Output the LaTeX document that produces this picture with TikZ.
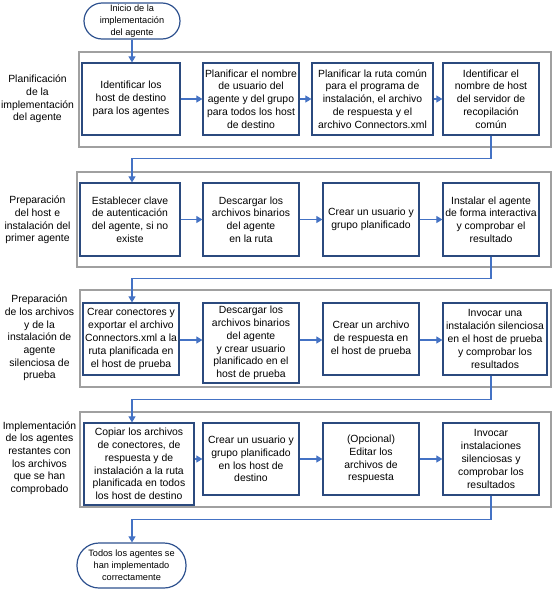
\documentclass[tikz,border=0pt]{standalone}
\usepackage{fontspec}
\setmainfont{Liberation Sans}
\usetikzlibrary{arrows.meta}
\definecolor{boxc}{HTML}{2B4A7E}
\definecolor{connc}{HTML}{4472C4}
\definecolor{framec}{HTML}{A0A0A0}
\definecolor{termc}{HTML}{2F528F}
\begin{document}
\begin{tikzpicture}[x=1pt,y=-1pt,
  box/.style={draw=boxc, line width=1.2pt, fill=white, align=center, inner sep=0pt,
    font=\fontsize{10.4}{12.8}\selectfont},
  frame/.style={draw=framec, line width=1.2pt},
  conn/.style={draw=connc, line width=1.1pt, -{Triangle[length=6pt,width=7pt]}},
  term/.style={draw=termc, line width=1.2pt, fill=white, align=center, inner sep=0pt,
    font=\fontsize{9.2}{11.8}\selectfont},
  lab/.style={align=center, inner sep=0pt, font=\fontsize{10.4}{12.7}\selectfont}]
\useasboundingbox (0,0) rectangle (557,592);
% frames
\draw[frame] (79,52) rectangle (551,147);
\draw[frame] (77,172) rectangle (551,267);
\draw[frame] (80,290) rectangle (551,387);
\draw[frame] (80,412) rectangle (551,507);
% labels
\node[lab] (l1) at (37.5,99) {Planificación\\de la\\implementación\\del agente};
\node[lab] (l2) at (37.5,220) {Preparación\\del host e\\instalación del\\primer agente};
\node[lab] (l3) at (39.5,338) {Preparación\\de los archivos\\y de la\\instalación de\\agente\\silenciosa de\\prueba};
\node[lab] (l4) at (39.5,458) {Implementación\\de los agentes\\restantes con\\los archivos\\que se han\\comprobado};
% terminators
\node[term, rounded corners=18pt, minimum width=96pt, minimum height=36pt] (start) at (132,21) {Inicio de la\\implementación\\del agente};
\node[term, rounded corners=22pt, minimum width=109pt, minimum height=45pt] (fin) at (131.5,565.5) {Todos los agentes se\\han implementado\\correctamente};
% row 1
\node[box, minimum width=98pt, minimum height=72pt] (a1) at (131,99) {Identificar los\\host de destino\\para los agentes};
\node[box, minimum width=96pt, minimum height=72pt] (a2) at (251,99) {Planificar el nombre\\de usuario del\\agente y del grupo\\para todos los host\\de destino};
\node[box, minimum width=121pt, minimum height=72pt] (a3) at (372.5,99) {Planificar la ruta común\\para el programa de\\instalación, el archivo\\de respuesta y el\\archivo Connectors.xml};
\node[box, minimum width=96pt, minimum height=72pt] (a4) at (491,99) {Identificar el\\nombre de host\\del servidor de\\recopilación\\común};
% row 2
\node[box, minimum width=100pt, minimum height=73pt] (b1) at (130,219.5) {Establecer clave\\de autenticación\\del agente, si no\\existe};
\node[box, minimum width=96pt, minimum height=73pt] (b2) at (251,219.5) {Descargar los\\archivos binarios\\del agente\\en la ruta};
\node[box, minimum width=96pt, minimum height=73pt] (b3) at (371,219.5) {Crear un usuario y\\grupo planificado};
\node[box, minimum width=96pt, minimum height=73pt] (b4) at (491,219.5) {Instalar el agente\\de forma interactiva\\y comprobar el\\resultado};
% row 3
\node[box, minimum width=96pt, minimum height=72pt] (c1) at (131,339) {Crear conectores y\\exportar el archivo\\Connectors.xml a la\\ruta planificada en\\el host de prueba};
\node[box, minimum width=96pt, minimum height=80pt] (c2) at (251,343) {Descargar los\\archivos binarios\\del agente\\y crear usuario\\planificado en el\\host de prueba};
\node[box, minimum width=96pt, minimum height=72pt] (c3) at (371,339) {Crear un archivo\\de respuesta en\\el host de prueba};
\node[box, minimum width=104pt, minimum height=72pt] (c4) at (495,339) {Invocar una\\instalación silenciosa\\en el host de prueba\\y comprobar los\\resultados};
% row 4
\node[box, minimum width=110pt, minimum height=82pt] (d1) at (139,464) {Copiar los archivos\\de conectores, de\\respuesta y de\\instalación a la ruta\\planificada en todos\\los host de destino};
\node[box, minimum width=96pt, minimum height=72pt] (d2) at (251,459) {Crear un usuario y\\grupo planificado\\en los host de\\destino};
\node[box, minimum width=96pt, minimum height=72pt] (d3) at (371,459) {(Opcional)\\Editar los\\archivos de\\respuesta};
\node[box, minimum width=96pt, minimum height=72pt] (d4) at (491,459) {Invocar\\instalaciones\\silenciosas y\\comprobar los\\resultados};
% connectors
\draw[conn] (start.south) -- (start.south |- a1.north);
\draw[conn] (a1.east) -- (a2.west);
\draw[conn] (a2.east) -- (a3.west);
\draw[conn] (a3.east) -- (a4.west);
\draw[conn] (a4.south) -- ++(0,23) -| (b1.north -| start.south);
\draw[conn] (b1.east) -- (b2.west);
\draw[conn] (b2.east) -- (b3.west);
\draw[conn] (b3.east) -- (b4.west);
\draw[conn] (b4.south) -- ++(0,22) -| (c1.north -| start.south);
\draw[conn] (c1.east |- 0,340) -- (c2.west |- 0,340);
\draw[conn] (c2.east |- 0,340) -- (c3.west |- 0,340);
\draw[conn] (c3.east |- 0,340) -- (c4.west |- 0,340);
\draw[conn] (c4.south -| a4.south) -- ++(0,24) -| (d1.north -| start.south);
\draw[conn] (d1.east |- 0,459) -- (d2.west);
\draw[conn] (d2.east) -- (d3.west);
\draw[conn] (d3.east) -- (d4.west);
\draw[conn] (d4.south) -- ++(0,24) -| (fin.north -| start.south);
\end{tikzpicture}
\end{document}
